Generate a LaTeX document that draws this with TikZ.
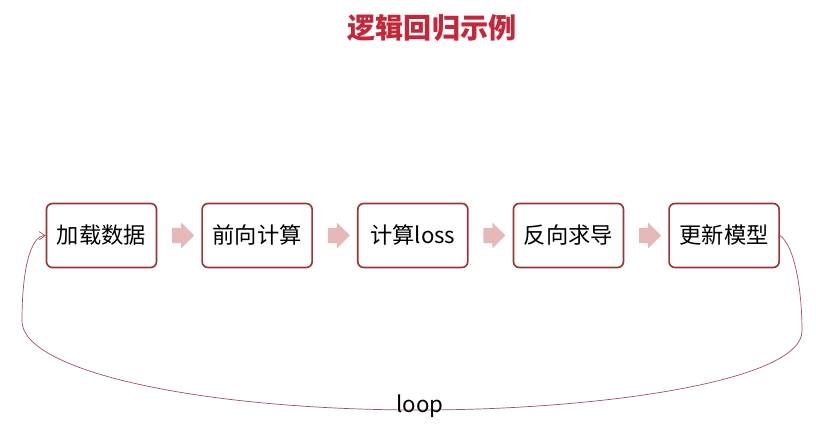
\documentclass[tikz,border=0pt]{standalone}
\usepackage{fontspec}
\newfontfamily\cjk{Noto Sans CJK SC}
\usetikzlibrary{arrows.meta, positioning, shapes.arrows, calc}
\definecolor{boxred}{RGB}{149,55,53}
\definecolor{titlered}{RGB}{196,38,58}
\definecolor{arrowpink}{RGB}{230,185,184}
\definecolor{loopred}{RGB}{160,82,90}

\begin{document}
\begin{tikzpicture}[
  x=0.03cm, y=0.03cm,
  heading/.style={font=\cjk\bfseries\fontsize{24}{28}\selectfont, text=titlered},
  stepbox/.style={draw=boxred, line width=1.4pt, rounded corners=5pt, fill=white,
                  minimum width=3.3cm, minimum height=1.92cm, inner sep=2pt,
                  font=\cjk\fontsize{19}{22}\selectfont},
  flowarrow/.style={single arrow, draw=none, fill=arrowpink,
                    inner xsep=0pt, inner ysep=0.225cm, minimum height=0.66cm,
                    single arrow head extend=0.16cm, single arrow tip angle=90},
  loopline/.style={draw=loopred, line width=0.6pt, -{Straight Barb[length=5pt, width=7pt]}},
  looplabel/.style={font=\cjk\fontsize{19}{22}\selectfont, anchor=base}
]
\useasboundingbox (0,0) rectangle (816,431);

\node[heading] (title) at (432,403) {逻辑回归示例};

% the five steps
\node[stepbox] (load) at (101.5,195.5) {加载数据};
\node[stepbox, right=1.32cm of load] (fwd) {前向计算};
\node[stepbox, right=1.32cm of fwd] (loss) {计算loss};
\node[stepbox, right=1.32cm of loss] (bwd) {反向求导};
\node[stepbox, right=1.32cm of bwd] (upd) {更新模型};

\foreach \a/\b in {load/fwd, fwd/loss, loss/bwd, bwd/upd}
  { \node[flowarrow] (arr-\a) at ($(\a.east)!0.5!(\b.west)$) {}; }

% loop back
\coordinate (rgt) at (802,100);
\coordinate (btm) at (420,21);
\coordinate (lft) at (22,110);
\draw[loopline] (upd.east) .. controls (795,185) and (802,140) .. (rgt)
  .. controls (802,50) and (600,21) .. (btm)
  .. controls (200,21) and (22,60) .. (lft)
  .. controls (22,160) and (30,195) .. (load.west);
\node[looplabel] (looptext) at ($(btm)+(0,-3)$) {loop};

\end{tikzpicture}
\end{document}
